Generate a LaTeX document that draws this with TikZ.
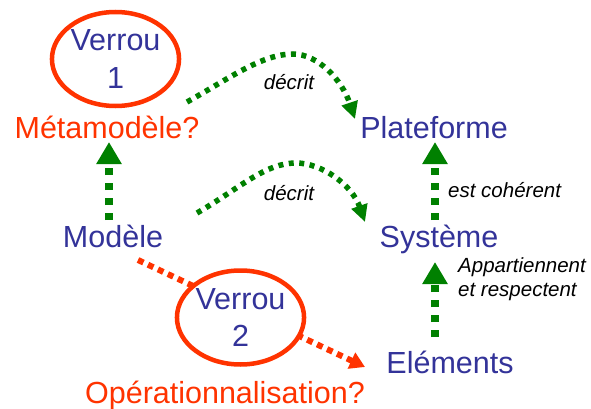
\documentclass[tikz,border=0pt]{standalone}
\usepackage{fontspec}
\setmainfont{Liberation Sans}
\usetikzlibrary{arrows.meta,shapes.geometric}
\definecolor{txtblue}{HTML}{333399}
\definecolor{lockred}{HTML}{FF3300}
\definecolor{arrgreen}{HTML}{008000}
\tikzset{
  big/.style={font=\fontsize{30.5}{37}\selectfont, inner sep=0pt, anchor=base},
  bluetxt/.style={big, text=txtblue},
  redtxt/.style={big, text=lockred},
  lbl/.style={font=\fontsize{20.5}{24}\selectfont\itshape, inner sep=0pt, anchor=base},
  lock/.style={ellipse, draw=lockred, line width=4.5pt, fill=white, inner sep=0pt,
    text=txtblue, font=\fontsize{30.5}{37.5}\selectfont, align=center},
  thickarrow/.style={draw=arrgreen, line width=8pt, dash pattern=on 7pt off 8pt,
    -{Triangle[length=22pt,width=24pt]}},
  curvearrow/.style={draw=arrgreen, line width=5.5pt, dash pattern=on 5pt off 5.5pt,
    -{Triangle[length=17pt,width=16pt]}},
  redarrow/.style={draw=lockred, line width=6pt, dash pattern=on 6pt off 5pt,
    -{Triangle[length=15pt,width=17pt]}}
}
\begin{document}
\begin{tikzpicture}[x=1pt,y=-1pt]
\useasboundingbox (0,0) rectangle (591,409);
% text nodes
\node[redtxt]  (meta) at (107,138) {Métamodèle?};
\node[bluetxt] (plat) at (434,138) {Plateforme};
\node[bluetxt] (mod)  at (113,247) {Modèle};
\node[bluetxt] (sys)  at (439,247) {Système};
\node[bluetxt] (elem) at (450,373) {Eléments};
\node[redtxt]  (oper) at (225,403) {Opérationnalisation?};
% labels
\node[lbl] (d1) at (289,90) {décrit};
\node[lbl] (d2) at (289,200) {décrit};
\node[lbl, anchor=base west] (coh) at (448,197) {est cohérent};
\node[lbl, anchor=base west, align=left] (app) at (458,296) {Appartiennent\\et respectent};
% connector end points
\coordinate (modtop)  at (109,220);
\coordinate (metabot) at (109,142);
\coordinate (systop)  at (435,220);
\coordinate (platbot) at (435,142);
\coordinate (elemtop) at (435,337);
\coordinate (sysbot)  at (435,262);
\coordinate (metaR)   at (187,102);
\coordinate (peak1)   at (293,54);
\coordinate (platL)   at (355,119);
\coordinate (modR)    at (197,213);
\coordinate (peak2)   at (296,163);
\coordinate (sysL)    at (365,222);
\coordinate (modB)    at (138,260);
\coordinate (elemL)   at (365,367);
% arrows
\draw[thickarrow] (modtop) -- (metabot);
\draw[thickarrow] (systop) -- (platbot);
\draw[thickarrow] (elemtop) -- (sysbot);
\draw[curvearrow] (metaR) .. controls (230,78) and (262,54) .. (peak1)
  .. controls (318,54) and (342,80) .. (platL);
\draw[curvearrow] (modR) .. controls (240,188) and (265,163) .. (peak2)
  .. controls (322,163) and (352,185) .. (sysL);
\draw[redarrow] (modB) -- (elemL);
% locks
\node[lock, minimum width=125pt, minimum height=94pt] (v1) at (115.5,59) {Verrou\\1};
\node[lock, minimum width=125pt, minimum height=94pt] (v2) at (240.5,317.5) {Verrou\\2};
\end{tikzpicture}
\end{document}
